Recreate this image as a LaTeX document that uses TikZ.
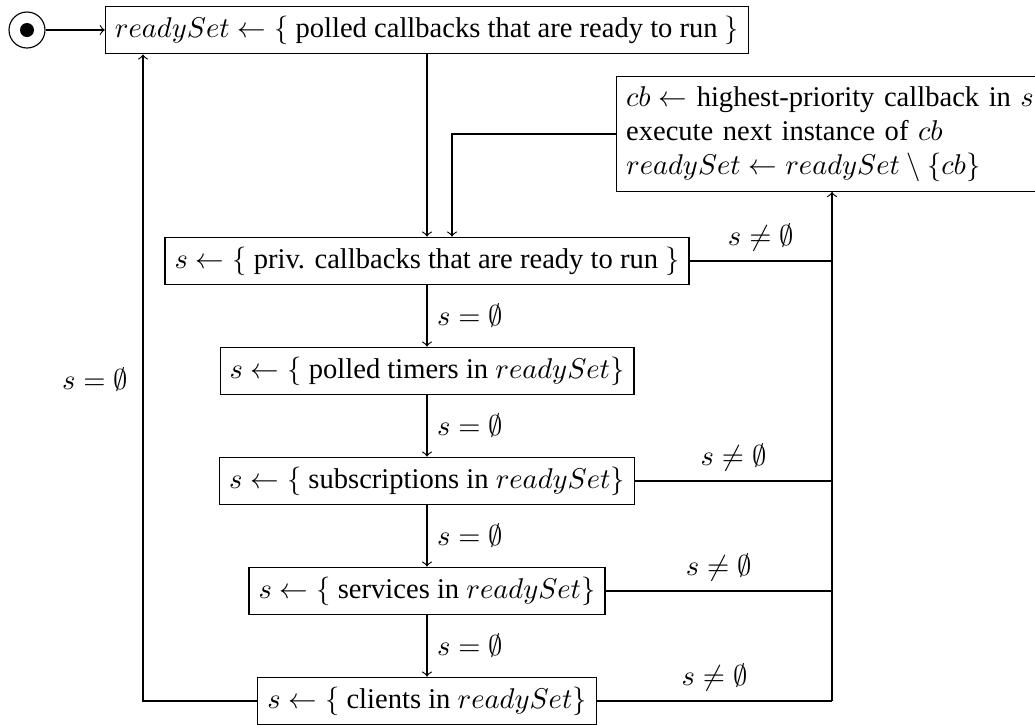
\documentclass[tikz,border=0pt]{standalone}
\usepackage{fontspec}
\setmainfont{Liberation Serif}
\usetikzlibrary{calc}
\begin{document}
\begin{tikzpicture}[x=0.35pt,y=-0.35pt,
  box/.style={draw,inner sep=3.33pt},
  lbl/.style={inner sep=3.33pt},
  >=to]
\clip (0,0) rectangle (1035,724);
\useasboundingbox (0,0) rectangle (1035,724);
% initial state
\node[draw,circle,minimum size=12.6pt,inner sep=0pt] (init) at (27,30) {};
\fill (init.center) circle (2.45pt);
% boxes
\node[box] (b1) at (427,30) {$readySet \leftarrow \{$ polled callbacks that are ready to run $\}$};
\node[box] (b2) at (427,261) {$s \leftarrow \{$ priv. callbacks that are ready to run $\}$};
\node[box] (b3) at (427,371) {$s \leftarrow \{$ polled timers in $readySet\}$};
\node[box] (b4) at (427,481) {$s \leftarrow \{$ subscriptions in $readySet\}$};
\node[box] (b5) at (427,591) {$s \leftarrow \{$ services in $readySet\}$};
\node[box] (b6) at (427,701) {$s \leftarrow \{$ clients in $readySet\}$};
\node[box,anchor=west,align=left,text width=150pt] (cb) at (616,134) {$cb \leftarrow$ highest-priority callback in $s$\\execute next instance of $cb$\\$readySet \leftarrow readySet \setminus \{cb\}$};
% helper coordinates
\coordinate (rx) at (832,0);
\coordinate (lx) at (143,0);
\coordinate (cx) at (452,0);
% connectors
\draw[->] (init) -- (b1);
\draw[->] (b1.south) -- (b2.north);
\draw[->] (cb.west) -| (cx |- b2.north);
\draw[->] (b2) -- node[lbl,right]{$s = \emptyset$} (b3);
\draw[->] (b3) -- node[lbl,right]{$s = \emptyset$} (b4);
\draw[->] (b4) -- node[lbl,right]{$s = \emptyset$} (b5);
\draw[->] (b5) -- node[lbl,right]{$s = \emptyset$} (b6);
\draw (b2.east) -- node[lbl,above]{$s \neq \emptyset$} (b2.east -| rx);
\draw (b4.east) -- node[lbl,above]{$s \neq \emptyset$} (b4.east -| rx);
\draw (b5.east) -- node[lbl,above]{$s \neq \emptyset$} (b5.east -| rx);
\draw (b6.east) -- node[lbl,above]{$s \neq \emptyset$} (b6.east -| rx);
\draw[->] (b6.east -| rx) -- (rx |- cb.south);
\draw[->] (b6.west) -| (lx |- b1.south);
\node[lbl,anchor=east] (ret) at (138,380) {$s = \emptyset$};
\end{tikzpicture}
\end{document}
